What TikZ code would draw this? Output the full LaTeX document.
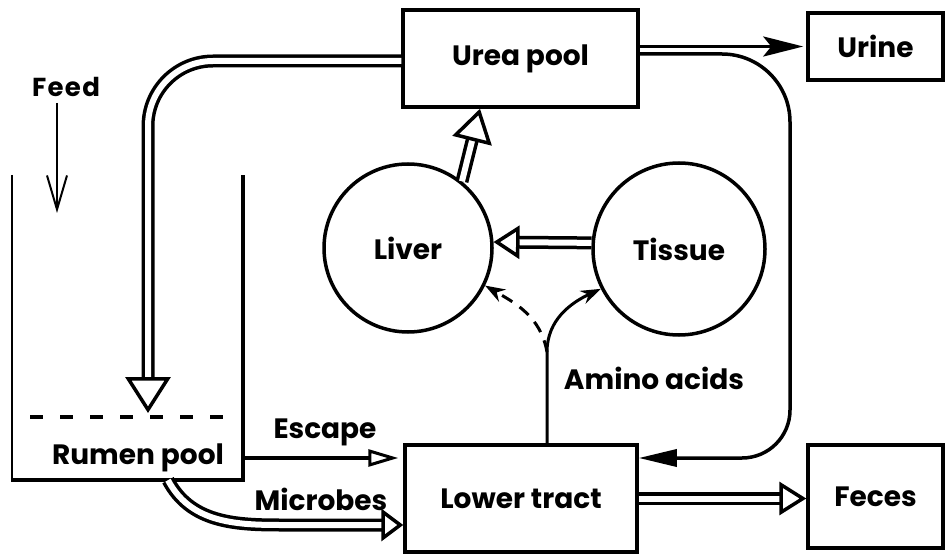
\documentclass[tikz,border=0pt]{standalone}
\usepackage{fontspec}
\setmainfont{Poppins}
\usepackage{tikz}
\usetikzlibrary{positioning, arrows.meta, calc}
\tikzset{
  label font/.style={font=\bfseries\fontsize{28}{32}\selectfont},
  pool/.style={draw, line width=3.5pt, label font},
  organ/.style={draw, circle, line width=3.5pt, label font},
  tag/.style={label font, inner sep=0pt},
  pipe/.style={line width=3.5pt, double distance=6pt},
  wire/.style={line width=3.5pt},
  thinwire/.style={line width=3pt}
}

\begin{document}
\begin{tikzpicture}[x=1pt, y=1pt]
    \useasboundingbox (0,0) rectangle (945,555);
    \node[pool, minimum width=235pt, minimum height=97pt] (urea) at (520.5,496.5) {Urea pool};
    \node[pool, minimum width=135pt, minimum height=67pt] (urine) at (875.5,508.5) {Urine};
    \node[pool, minimum width=232pt, minimum height=107pt] (lower) at (521,56.5) {Lower tract};
    \node[pool, minimum width=135pt, minimum height=103pt] (feces) at (875.5,58.5) {Feces};
    \node[organ, minimum size=168pt] (liver) at (408,307) {Liver};
    \node[organ, minimum size=172pt] (tissue) at (679,306) {Tissue};
    \node[minimum width=231pt, minimum height=305pt, inner sep=0pt] (rumen) at (127.5,227.5) {};
    \node[tag] (rumenpool) at (138,97) {Rumen pool};
    \node[tag, font=\bfseries\addfontfeatures{LetterSpace=5}\fontsize{26}{30}\selectfont] (feed) at (66,468) {Feed};
    \node[tag] (escape) at (325,123) {Escape};
    \node[tag] (microbes) at (321,56) {Microbes};
    \node[tag] (amino) at (654,177) {Amino acids};
    \coordinate (drop) at (148,142);
    \coordinate (split) at (547,203);
    \coordinate (loop) at (790,300);
    \coordinate (feedend) at (57,342);
    \coordinate (esc) at ([yshift=40.5pt]lower.west);
    \coordinate (mic) at ([yshift=-26.5pt]lower.west);
    \coordinate (micstart) at ([xshift=40.5pt]rumen.south);

    \draw[line width=2pt] (rumen.north west) -- (rumen.south west);
    \draw[wire] ([xshift=-1pt]rumen.south west) -- (rumen.south east) -- (rumen.north east);
    \draw[wire, dash pattern=on 13pt off 17pt] (30,138) -- (226,138);

    \draw[line width=2pt, -{Straight Barb[length=34pt, width=20pt]}] ([yshift=-6pt]feed.south -| feedend) -- (feedend);
    \draw[pipe, rounded corners=65pt, -{Triangle[open, length=36pt, width=45pt, line width=3.5pt]}] ([yshift=-2.5pt]urea.west) -| (drop);
    \draw[pipe, -{Triangle[open, length=33pt, width=40pt, line width=3.5pt]}] (liver.51) -- ([xshift=-40.5pt]urea.south);
    \draw[pipe, -{Triangle[open, length=26pt, width=33pt, line width=3.5pt]}] (tissue.176) -- (liver.4);
    \draw[pipe, -{Triangle[open, length=27pt, width=33pt, line width=3.5pt]}] (lower.east) -- (lower.east -| feces.west);
    \draw[pipe, -{Triangle[open, length=22pt, width=32pt, line width=3.5pt]}] (micstart) to[out=-62, in=180] (mic -| 280,0) -- (mic);
    \draw[wire, shorten >=5pt, -{Triangle[open, length=30pt, width=17pt, line width=3pt]}] (esc -| rumen.east) -- (esc);
    \draw[wire, shorten >=3pt, -{Stealth[length=40pt, width=20pt, inset=8pt]}] (urea.east |- urine.west) -- (urine.west);
    \draw[wire, rounded corners=68pt, -{Triangle[length=38pt, width=17pt]}] ([yshift=4.5pt]urea.east) -| (loop) [rounded corners=48pt] |- ([yshift=40.5pt]lower.east);
    \draw[thinwire, -{Stealth[length=20pt, width=14pt]}] ([xshift=26pt]lower.north) -- (split) to[out=90, in=205] (tissue.207);
    \draw[thinwire, dash pattern=on 12pt off 9pt, -{Stealth[length=20pt, width=14pt]}] (split) to[out=100, in=-30] (liver.-26);
  \end{tikzpicture}
\end{document}
